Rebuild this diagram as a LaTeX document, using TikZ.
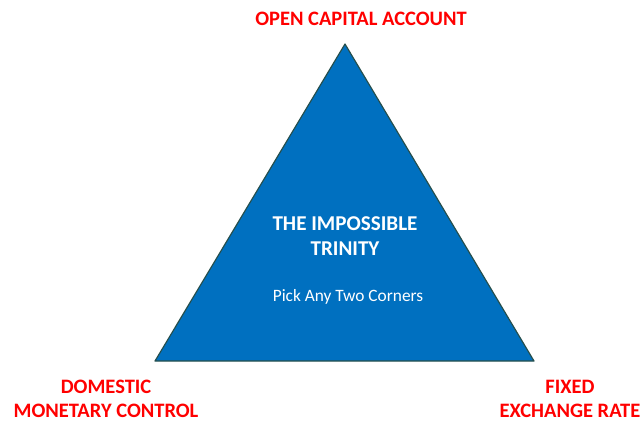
\documentclass[tikz,border=0pt]{standalone}
\usepackage{fontspec}
\setmainfont{Carlito}
\definecolor{trifill}{HTML}{0070C0}
\definecolor{triedge}{HTML}{264F4C}
\definecolor{cornerred}{HTML}{FF0000}
\tikzset{
	corner/.style={text=cornerred, font=\fontsize{17.5}{20.8}\selectfont\bfseries, align=center, inner sep=0pt},
	inside/.style={text=white, align=center, inner sep=0pt}
}
\begin{document}
\begin{tikzpicture}[x=0.03cm, y=-0.03cm, line join=round, line cap=round]
			\useasboundingbox (0,0) rectangle (644,423);
			\coordinate (A) at (345,44); \coordinate (B) at (155,361); \coordinate (C) at (534,361); % corners
			\filldraw[fill=trifill, draw=triedge, line width=1pt] (A)--(B)--(C)--cycle;
			\node[corner] (top) at (361,19) {OPEN CAPITAL ACCOUNT};
			\node[corner] (left) at (106,399) {DOMESTIC\\MONETARY CONTROL};
			\node[corner] (right) at (570,399) {FIXED\\EXCHANGE RATE};
			\node[inside, font=\fontsize{18}{22}\selectfont\bfseries] (title) at (345,236) {THE IMPOSSIBLE\\TRINITY};
			\node[inside, font=\fontsize{14.8}{17}\selectfont] (sub) at (348,297) {Pick Any Two Corners};
		\end{tikzpicture}
\end{document}
